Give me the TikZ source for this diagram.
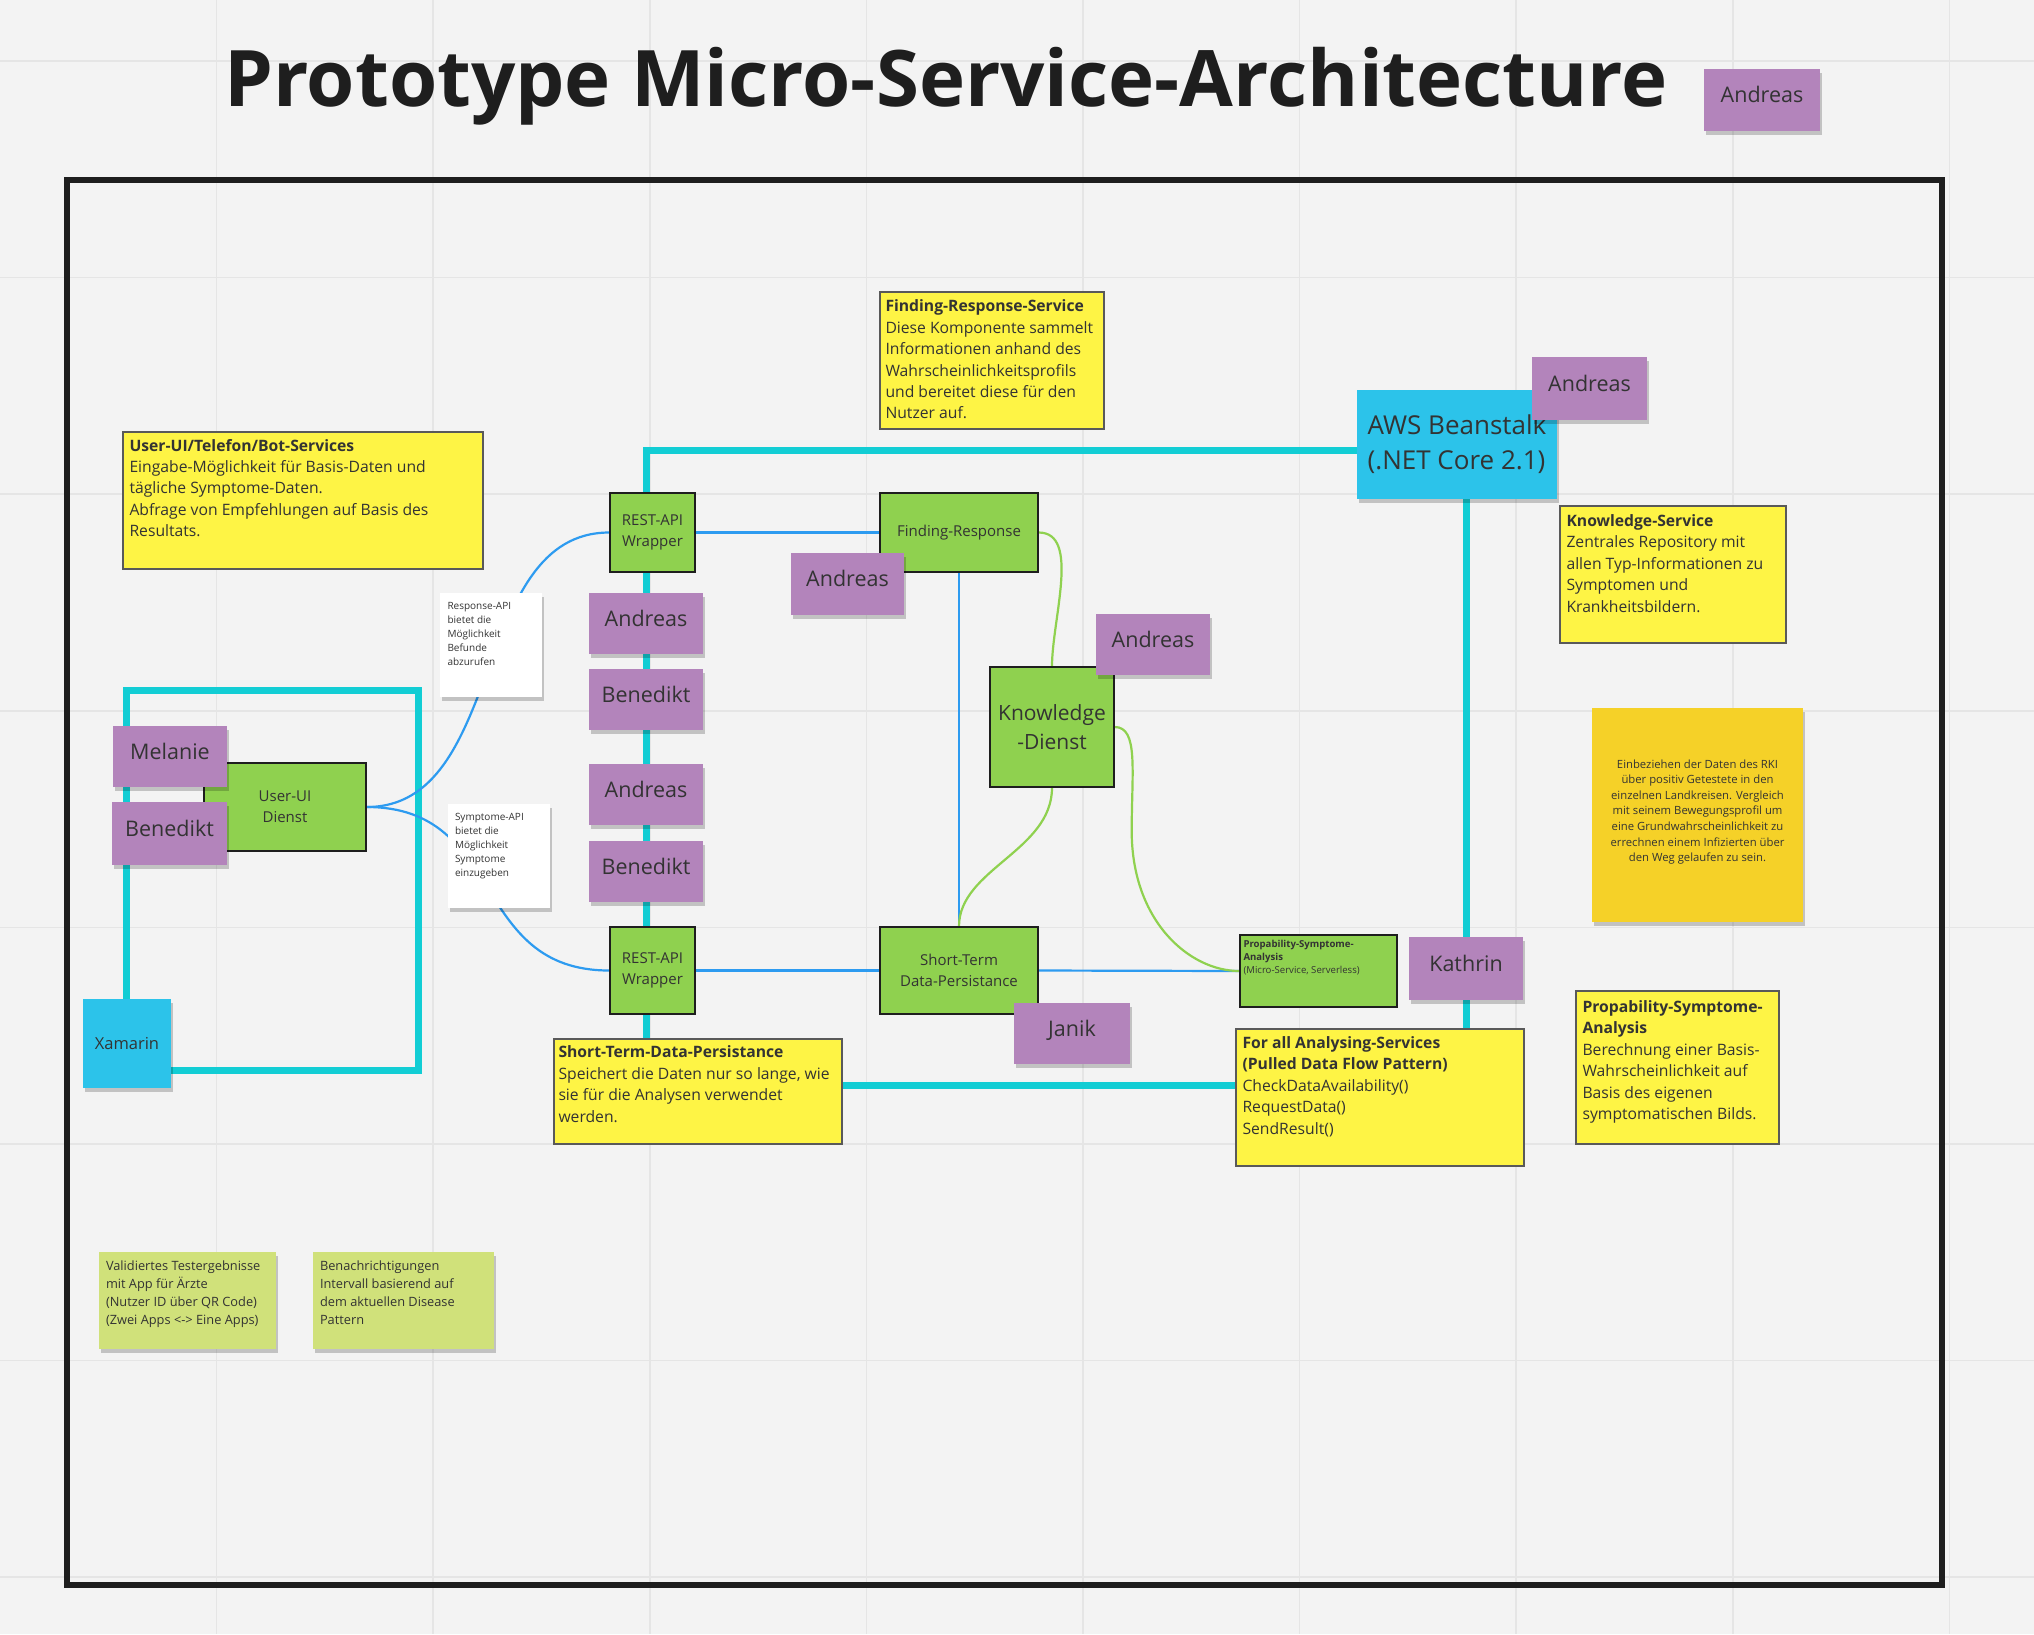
\documentclass[tikz,border=0pt]{standalone}
\usepackage{fontspec}
\setmainfont{Open Sans}
\usetikzlibrary{shadows}
\pgfdeclarelayer{bg}
\pgfsetlayers{bg,main}
\definecolor{bgc}{HTML}{F3F3F3}
\definecolor{gridc}{HTML}{E5E5E5}
\definecolor{cyanl}{HTML}{12CDD4}
\definecolor{cyanbox}{HTML}{2CC3EA}
\definecolor{greenbox}{HTML}{8FD14F}
\definecolor{yel}{HTML}{FEF445}
\definecolor{purp}{HTML}{B384BB}
\definecolor{orng}{HTML}{F5D128}
\definecolor{lgreen}{HTML}{D0E17A}
\definecolor{bluel}{HTML}{2D9BF0}
\definecolor{txt}{HTML}{333333}
\definecolor{darkb}{HTML}{1E1E1E}
\newcommand\fs[2]{\fontsize{#1}{#2}\selectfont}
\tikzset{
  base box/.style={rectangle, inner sep=0pt, text=txt, align=center},
  gbox/.style={base box, fill=greenbox, draw=darkb, line width=1.4pt, font=\fs{15}{21}},
  ynote/.style={base box, fill=yel, draw=black!65, line width=1.4pt},
  sticky/.style={base box, drop shadow={shadow xshift=1.5pt, shadow yshift=-4pt, opacity=0.2, fill=black}},
  pnote/.style={sticky, fill=purp, font=\fs{21.5}{28}, text height=0.72em, text depth=0.2em},
  cbox/.style={base box, fill=cyanbox, drop shadow={shadow xshift=1.5pt, shadow yshift=-4pt, opacity=0.2, fill=black}},
  ntext/.style={anchor=north west, inner sep=0pt, align=left, text=txt, font=\fs{15.7}{21.4}},
  cyanline/.style={draw=cyanl, line width=7pt},
  blueline/.style={draw=bluel, line width=2.2pt},
  greenline/.style={draw=greenbox, line width=2.2pt},
}
\begin{document}
\begin{tikzpicture}[x=1pt, y=-1pt]
\useasboundingbox (0,0) rectangle (2034,1634);
\begin{pgfonlayer}{bg}
  \fill[bgc] (0,0) rectangle (2034,1634);
  \foreach \k in {1,...,9} { \draw[gridc, line width=1.5pt] ({216.6*\k},0) -- ({216.6*\k},1634); }
  \foreach \k in {0,...,7} { \draw[gridc, line width=1.5pt] (0,{61+216.6*\k}) -- (2034,{61+216.6*\k}); }
\end{pgfonlayer}

% title
\node[anchor=base, inner sep=0pt, text=darkb, font=\fs{78}{90}\bfseries] (title) at (946,106) {Prototype Micro-Service-Architecture};
\node[pnote, minimum width=116pt, minimum height=62pt] (tandreas) at (1762,100) {Andreas};

% frame
\node[draw=darkb, line width=6.5pt, minimum width=1875pt, minimum height=1405pt, inner sep=0pt] (frame) at (1004.5,882.5) {};

% yellow notes
\node[ynote, minimum width=360pt, minimum height=137pt] (usernote) at (303,500.5) {};
\node[ntext] at ([shift={(7,7.5)}]usernote.north west) {\textbf{User-UI/Telefon/Bot-Services}\\Eingabe-Möglichkeit für Basis-Daten und\\tägliche Symptome-Daten.\\Abfrage von Empfehlungen auf Basis des\\Resultats.};

\node[ynote, minimum width=224pt, minimum height=137pt] (frsnote) at (992,360.5) {};
\node[ntext] at ([shift={(6,8.5)}]frsnote.north west) {\textbf{Finding-Response-Service}\\Diese Komponente sammelt\\Informationen anhand des\\Wahrscheinlichkeitsprofils\\und bereitet diese für den\\Nutzer auf.};

\node[ynote, minimum width=226pt, minimum height=137pt] (ksnote) at (1673,574.5) {};
\node[ntext] at ([shift={(7,9)}]ksnote.north west) {\textbf{Knowledge-Service}\\Zentrales Repository mit\\allen Typ-Informationen zu\\Symptomen und\\Krankheitsbildern.};

\node[ynote, minimum width=203pt, minimum height=153pt] (propnote) at (1677.5,1067.5) {};
\node[ntext] at ([shift={(7,10)}]propnote.north west) {\textbf{Propability-Symptome-}\\\textbf{Analysis}\\Berechnung einer Basis-\\Wahrscheinlichkeit auf\\Basis des eigenen\\symptomatischen Bilds.};

\node[ynote, minimum width=288pt, minimum height=137pt] (forall) at (1380,1097.5) {};
\node[ntext] at ([shift={(7,8)}]forall.north west) {\textbf{For all Analysing-Services}\\\textbf{(Pulled Data Flow Pattern)}\\CheckDataAvailability()\\RequestData()\\SendResult()};

\node[ynote, minimum width=288pt, minimum height=105pt] (stdnote) at (698,1091.5) {};
\node[ntext] at ([shift={(5,7.5)}]stdnote.north west) {\textbf{Short-Term-Data-Persistance}\\Speichert die Daten nur so lange, wie\\sie für die Analysen verwendet\\werden.};

% orange note
\node[sticky, fill=orng, minimum width=211pt, minimum height=214pt] (rki) at (1697.5,815) {};
\node[inner sep=0pt, align=center, text=txt, font=\fs{11.3}{15.6}] at ([yshift=3pt]rki.center) {Einbeziehen der Daten des RKI\\über positiv Getestete in den\\einzelnen Landkreisen. Vergleich\\mit seinem Bewegungsprofil um\\eine Grundwahrscheinlichkeit zu\\errechnen einem Infizierten über\\den Weg gelaufen zu sein.};

% light green notes
\node[sticky, fill=lgreen, minimum width=177pt, minimum height=97pt] (lg1) at (187.5,1300.5) {};
\node[ntext, font=\fs{12.8}{18}] at ([shift={(7,8.3)}]lg1.north west) {Validiertes Testergebnisse\\mit App für Ärzte\\(Nutzer ID über QR Code)\\(Zwei Apps <-> Eine Apps)};
\node[sticky, fill=lgreen, minimum width=181pt, minimum height=97pt] (lg2) at (403.5,1300.5) {};
\node[ntext, font=\fs{12.8}{18}] at ([shift={(7,8.3)}]lg2.north west) {Benachrichtigungen\\Intervall basierend auf\\dem aktuellen Disease\\Pattern};

% white notes
\node[sticky, fill=white, minimum width=102pt, minimum height=104pt] (resp) at (491,645) {};
\node[ntext, font=\fs{10}{14}] at ([shift={(7.5,9)}]resp.north west) {Response-API\\bietet die\\Möglichkeit\\Befunde\\abzurufen};
\node[sticky, fill=white, minimum width=102pt, minimum height=104pt] (symp) at (499,856) {};
\node[ntext, font=\fs{10}{14}] at ([shift={(7,9.4)}]symp.north west) {Symptome-API\\bietet die\\Möglichkeit\\Symptome\\einzugeben};

% green service nodes
\node[gbox, minimum width=85pt, minimum height=79pt] (rest1) at (652.5,532.5) {REST-API\\Wrapper};
\node[gbox, minimum width=85pt, minimum height=87pt] (rest2) at (652.5,970.5) {REST-API\\Wrapper};
\node[gbox, minimum width=158pt, minimum height=79pt] (fr) at (959,532.5) {Finding-Response};
\node[gbox, minimum width=158pt, minimum height=87pt] (st) at (959,970.5) {Short-Term\\Data-Persistance};
\node[gbox, minimum width=124pt, minimum height=120pt, font=\fs{21}{28.5}] (kd) at (1052,727) {Knowledge\\-Dienst};
\node[gbox, minimum width=162pt, minimum height=88pt] (uiui) at (285,807) {User-UI\\Dienst};
\node[gbox, minimum width=157pt, minimum height=72pt] (psa) at (1318.5,971) {};
\node[ntext, font=\fs{9.6}{13}] at ([shift={(4,6)}]psa.north west) {\textbf{Propability-Symptome-}\\\textbf{Analysis}\\(Micro-Service, Serverless)};

% cyan boxes
\node[cbox, minimum width=200pt, minimum height=109pt, font=\fs{26}{35}, align=left] (aws) at (1457,444.5) {AWS Beanstalk\\(.NET Core 2.1)};
\node[cbox, minimum width=88pt, minimum height=89pt, font=\fs{16.5}{22}] (xamarin) at (127,1043.5) {Xamarin};

% purple notes
\node[pnote, minimum width=115pt, minimum height=63pt] (awsandreas) at (1589.5,388.5) {Andreas};
\node[pnote, minimum width=114pt, minimum height=61pt] (melanie) at (170,756.5) {Melanie};
\node[pnote, minimum width=115pt, minimum height=63pt] (bene1) at (169.5,833.5) {Benedikt};
\node[pnote, minimum width=114pt, minimum height=61pt] (andr1) at (646,623.5) {Andreas};
\node[pnote, minimum width=114pt, minimum height=61pt] (bene2) at (646,699.5) {Benedikt};
\node[pnote, minimum width=114pt, minimum height=61pt] (andr2) at (646,794.5) {Andreas};
\node[pnote, minimum width=114pt, minimum height=61pt] (bene3) at (646,871.5) {Benedikt};
\node[pnote, minimum width=113pt, minimum height=62pt] (andr3) at (847.5,584) {Andreas};
\node[pnote, minimum width=114pt, minimum height=61pt] (andr4) at (1153,644.5) {Andreas};
\node[pnote, minimum width=116pt, minimum height=61pt] (janik) at (1072,1033.5) {Janik};
\node[pnote, minimum width=114pt, minimum height=63pt] (kathrin) at (1466,968.5) {Kathrin};

% connectors
\begin{pgfonlayer}{bg}
  \draw[cyanline] (126,690) rectangle (418,1070);
  \coordinate (tl) at (646,450);
  \coordinate (hl) at (0,1085);
  \draw[cyanline] (tl |- stdnote.north) -- (tl) -- (tl -| aws.west);
  \draw[cyanline] (kathrin |- aws.south) -- (kathrin |- forall.north);
  \draw[cyanline] (stdnote.east |- hl) -- (forall.west |- hl);
  \draw[blueline] (rest1.east) -- (fr.west);
  \draw[blueline] (rest2.east) -- (st.west);
  \draw[blueline] (st.east) -- (psa.west);
  \draw[blueline] (fr.south) -- (st.north);
  \draw[blueline] (uiui.east) .. controls +(140,0) and +(-140,0) .. (rest1.west);
  \draw[blueline] (uiui.east) .. controls +(140,0) and +(-140,0) .. (rest2.west);
  \draw[greenline] (fr.east) .. controls +(42,0) and +(0,-47) .. (kd.north);
  \draw[greenline] (kd.south) .. controls +(0,63) and +(0,-57) .. (st.north);
  \draw[greenline] (kd.east) .. controls +(24,0) and +(0,-60) .. ++(17,104) .. controls +(0,90) and +(-50,0) .. (psa.west);
\end{pgfonlayer}
\end{tikzpicture}
\end{document}
